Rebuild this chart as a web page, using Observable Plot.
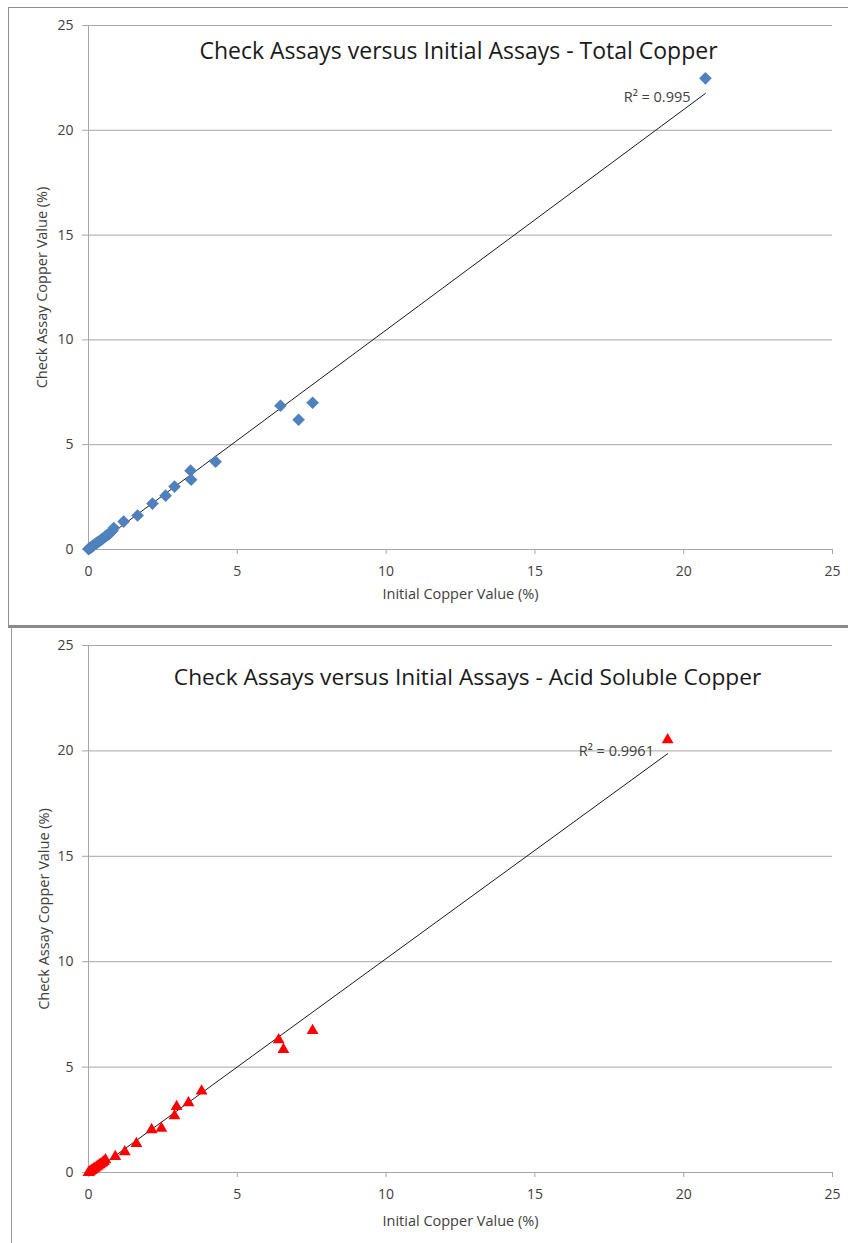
<!DOCTYPE html>
<html>
<head>
<meta charset="utf-8">
<script src="https://cdn.jsdelivr.net/npm/d3@7"></script>
<script src="https://cdn.jsdelivr.net/npm/@observablehq/plot@0.6"></script>
<style>
  html, body { margin: 0; padding: 0; background: #fff; }
  body { width: 848px; height: 1243px; overflow: hidden; position: relative; font-family: "Open Sans", sans-serif; }
  .frame { position: absolute; box-sizing: border-box; }
  #frame1 { left: 8px; top: 7px; width: 860px; height: 621px; border: 1px solid #8e8e8e; border-bottom: 3px solid #8a8a8a; }
  #frame2 { left: 11px; top: 628px; width: 860px; height: 640px; border: 1px solid #9a9a9a; border-top: none; }
  .chart { position: absolute; left: 0; }
  #chart1 { top: 0; }
  #chart2 { top: 627px; }
</style>
</head>
<body>
<div class="frame" id="frame1"></div>
<div class="frame" id="frame2"></div>
<div class="chart" id="chart1"></div>
<div class="chart" id="chart2"></div>
<script>
// Total copper: initial assay vs check assay (%)
const initialTotal = [0.00, 0.02, 0.05, 0.08, 0.12, 0.15, 0.20, 0.25, 0.30, 0.35, 0.40, 0.45, 0.50, 0.55, 0.60, 0.65, 0.70, 0.75, 0.80, 0.85, 1.18, 1.65, 2.15, 2.59, 2.89, 3.43, 3.45, 4.27, 6.45, 7.06, 7.53, 20.73];
const checkTotal   = [0.02, 0.05, 0.07, 0.10, 0.14, 0.18, 0.24, 0.28, 0.34, 0.38, 0.44, 0.48, 0.55, 0.60, 0.66, 0.70, 0.76, 0.82, 0.90, 1.02, 1.33, 1.62, 2.19, 2.57, 3.00, 3.76, 3.33, 4.19, 6.86, 6.19, 7.00, 22.48];

// Acid soluble copper: initial assay vs check assay (%)
const initialAcid = [0.00, 0.03, 0.06, 0.10, 0.14, 0.18, 0.22, 0.27, 0.32, 0.37, 0.42, 0.47, 0.52, 0.57, 0.90, 1.22, 1.61, 2.12, 2.45, 2.89, 2.96, 3.36, 3.80, 6.39, 6.55, 7.53, 19.46];
const checkAcid   = [0.00, 0.02, 0.05, 0.09, 0.13, 0.17, 0.21, 0.26, 0.31, 0.36, 0.41, 0.46, 0.52, 0.60, 0.75, 0.98, 1.37, 2.03, 2.09, 2.69, 3.13, 3.30, 3.86, 6.29, 5.83, 6.73, 20.53];

const axisTicks = [0, 5, 10, 15, 20, 25];
const titles = ["Check Assays versus Initial Assays - Total Copper", "Check Assays versus Initial Assays - Acid Soluble Copper"];
const r2Labels = ["R² = 0.995", "R² = 0.9961"];
const r2Anchors = [{x: 20.23, y: 21.55}, {x: 19.0, y: 19.97}];
const xLabel = "Initial Copper Value (%)";
const yLabel = "Check Assay Copper Value (%)";

const gridColor = "#a6a6a6";
const textColor = "#404040";

function makeChart({xs, ys, title, titleSize, titleDx, titleDy, xLabelDy, yLabelDx, r2, r2At, symbol, color, r, height, marginTop, marginBottom}) {
  const data = xs.map((x, i) => ({x, y: ys[i]}));
  return Plot.plot({
    width: 848,
    height,
    marginLeft: 88,
    marginRight: 16,
    marginTop,
    marginBottom,
    style: {fontFamily: "Open Sans, sans-serif", color: textColor, background: "transparent", overflow: "visible"},
    x: {domain: [0, 25]},
    y: {domain: [0, 25]},
    marks: [
      Plot.gridY(axisTicks.slice(1), {stroke: gridColor, strokeOpacity: 1}),
      Plot.ruleY([0], {stroke: gridColor}),
      Plot.ruleX([0], {stroke: gridColor}),
      Plot.axisX(axisTicks, {
        tickSize: 5, tickPadding: 12, stroke: gridColor, fontSize: 14, fill: textColor, label: null
      }),
      Plot.axisY(axisTicks, {
        tickSize: 6, tickPadding: 9, stroke: gridColor, fontSize: 14, fill: textColor, label: null
      }),
      // axis titles
      Plot.text([xLabel], {frameAnchor: "bottom", dy: xLabelDy, fontSize: 14.5, fill: textColor}),
      Plot.text([yLabel], {frameAnchor: "left", dx: yLabelDx, rotate: -90, textAnchor: "middle", fontSize: 14.5, fill: textColor}),
      Plot.linearRegressionY(data, {x: "x", y: "y", ci: 0, stroke: "#1a1a1a", strokeWidth: 1}),
      Plot.dot(data, {x: "x", y: "y", symbol, fill: color, stroke: "none", r}),
      Plot.text([r2], {x: () => r2At.x, y: () => r2At.y, text: d => d, textAnchor: "end", fontSize: 14.5, fill: textColor}),
      Plot.text([title], {frameAnchor: "top", dx: titleDx, dy: titleDy, fontSize: titleSize, fill: "#1a1a1a"})
    ]
  });
}

document.getElementById("chart1").append(makeChart({
  xs: initialTotal, ys: checkTotal, title: titles[0], titleSize: 23, titleDx: -2, titleDy: 17,
  xLabelDy: 49, yLabelDx: -46,
  r2: r2Labels[0], r2At: r2Anchors[0],
  symbol: "diamond2", color: "#4f81bd", r: 5.7, height: 626, marginTop: 25, marginBottom: 77
}));
document.getElementById("chart2").append(makeChart({
  xs: initialAcid, ys: checkAcid, title: titles[1], titleSize: 22.7, titleDx: 7, titleDy: 23,
  xLabelDy: 53, yLabelDx: -44,
  r2: r2Labels[1], r2At: r2Anchors[1],
  symbol: "triangle", color: "#ff0000", r: 4.4, height: 616, marginTop: 18, marginBottom: 71
}));
</script>
</body>
</html>
